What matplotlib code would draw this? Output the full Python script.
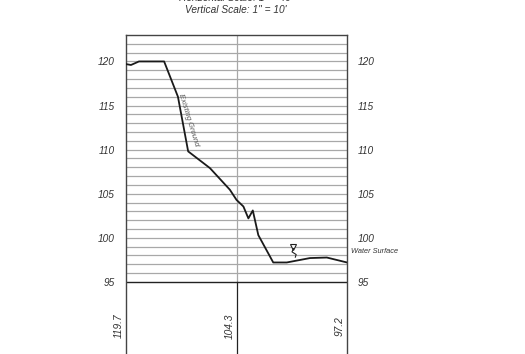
import matplotlib
matplotlib.use('Agg')
import matplotlib.pyplot as plt
import numpy as np

plt.rcParams['font.family'] = ['Liberation Sans', 'DejaVu Sans']

# ground profile (station ft, elevation ft)
station = [0, 1.8, 4.7, 13.8, 18.8, 22.5, 30.4, 37.6, 40, 42.5, 44.3, 45.9, 47.9, 53.3, 58.2, 66.6, 72.7, 80]
elevation = [119.7, 119.6, 120.0, 120.0, 116.0, 109.8, 107.9, 105.45, 104.3, 103.55, 102.2, 103.1, 100.3, 97.2, 97.2, 97.7, 97.76, 97.2]

label_stations = [0, 40, 80]
label_elevations = ['119.7', '104.3', '97.2']

ws_station = 60.6
ws_elev = 99.0
squiggle_x = [60.6, 60.1, 61.6, 61.3]
squiggle_y = [98.78, 98.4, 98.1, 97.8]

y_ticks = [95, 100, 105, 110, 115, 120]
grid_levels = np.arange(96, 123)

fig = plt.figure(figsize=(5.25, 3.54), dpi=100)
ax = fig.add_axes([126 / 525, 0, 221 / 525, 1 - 35 / 354])
ax.set_xlim(0, 80)
ax.set_ylim(95 - 72 / 8.8, 123)

grey = '#a8a8a8'
dark = '#333333'
for lev in grid_levels:
    ax.plot([0, 80], [lev, lev], color=grey, lw=0.9, zorder=1)
ax.plot([40, 40], [95, 123], color=grey, lw=0.9, zorder=1)
ax.plot([40, 40], [95 - 72 / 8.8, 95], color='#222222', lw=0.9, zorder=1)
ax.plot([0, 80], [95, 95], color='#222222', lw=1.0, zorder=2)

for s in ['left', 'right', 'top']:
    ax.spines[s].set_color('#444444')
    ax.spines[s].set_linewidth(1.0)
ax.spines['bottom'].set_visible(False)

ax.plot(station, elevation, color='#1a1a1a', lw=1.3, zorder=3)

# water surface symbol
ax.plot([ws_station], [ws_elev], marker='v', markersize=4.5, mfc='white',
        mec='#222222', mew=0.8, zorder=4)
ax.plot(squiggle_x, squiggle_y, color='#222222', lw=0.8, zorder=4)
ax.text(81.4, 98.4, 'Water Surface', fontsize=5.3, style='italic',
        color=dark, ha='left', va='center', clip_on=False)

ax.text(22.4, 113.4, 'Existing Ground', fontsize=5.5, style='italic',
        color='#555555', rotation=-73, ha='center', va='center')

ax.set_xticks([])
ax.set_yticks(y_ticks)
ax.set_yticklabels([str(t) for t in y_ticks], fontsize=7.3, style='italic', color=dark)
ax.tick_params(axis='y', length=0, pad=9.5, labelright=True)
ax.tick_params(axis='y', which='both', right=False)
for lbl in ax.get_yticklabels():
    pass
ax.yaxis.set_tick_params(labelright=True)
for t in ax.yaxis.get_major_ticks():
    t.label2.set_fontsize(7.3)
    t.label2.set_fontstyle('italic')
    t.label2.set_color(dark)
ax.tick_params(axis='y', which='major', pad=8)

for st, lab in zip(label_stations, label_elevations):
    ax.text(st - 2.5, 90, lab, rotation=90, fontsize=7.3, style='italic',
            color=dark, ha='center', va='center', clip_on=False)

fig.text(236 / 525, 1 + 2 / 354, 'Horizontal Scale: 1" = 40\'', fontsize=7.3,
         style='italic', color=dark, ha='center', va='center')
fig.text(236 / 525, 1 - 10 / 354, 'Vertical Scale: 1" = 10\'', fontsize=7.3,
         style='italic', color=dark, ha='center', va='center')

fig.savefig('out.png', dpi=100)
